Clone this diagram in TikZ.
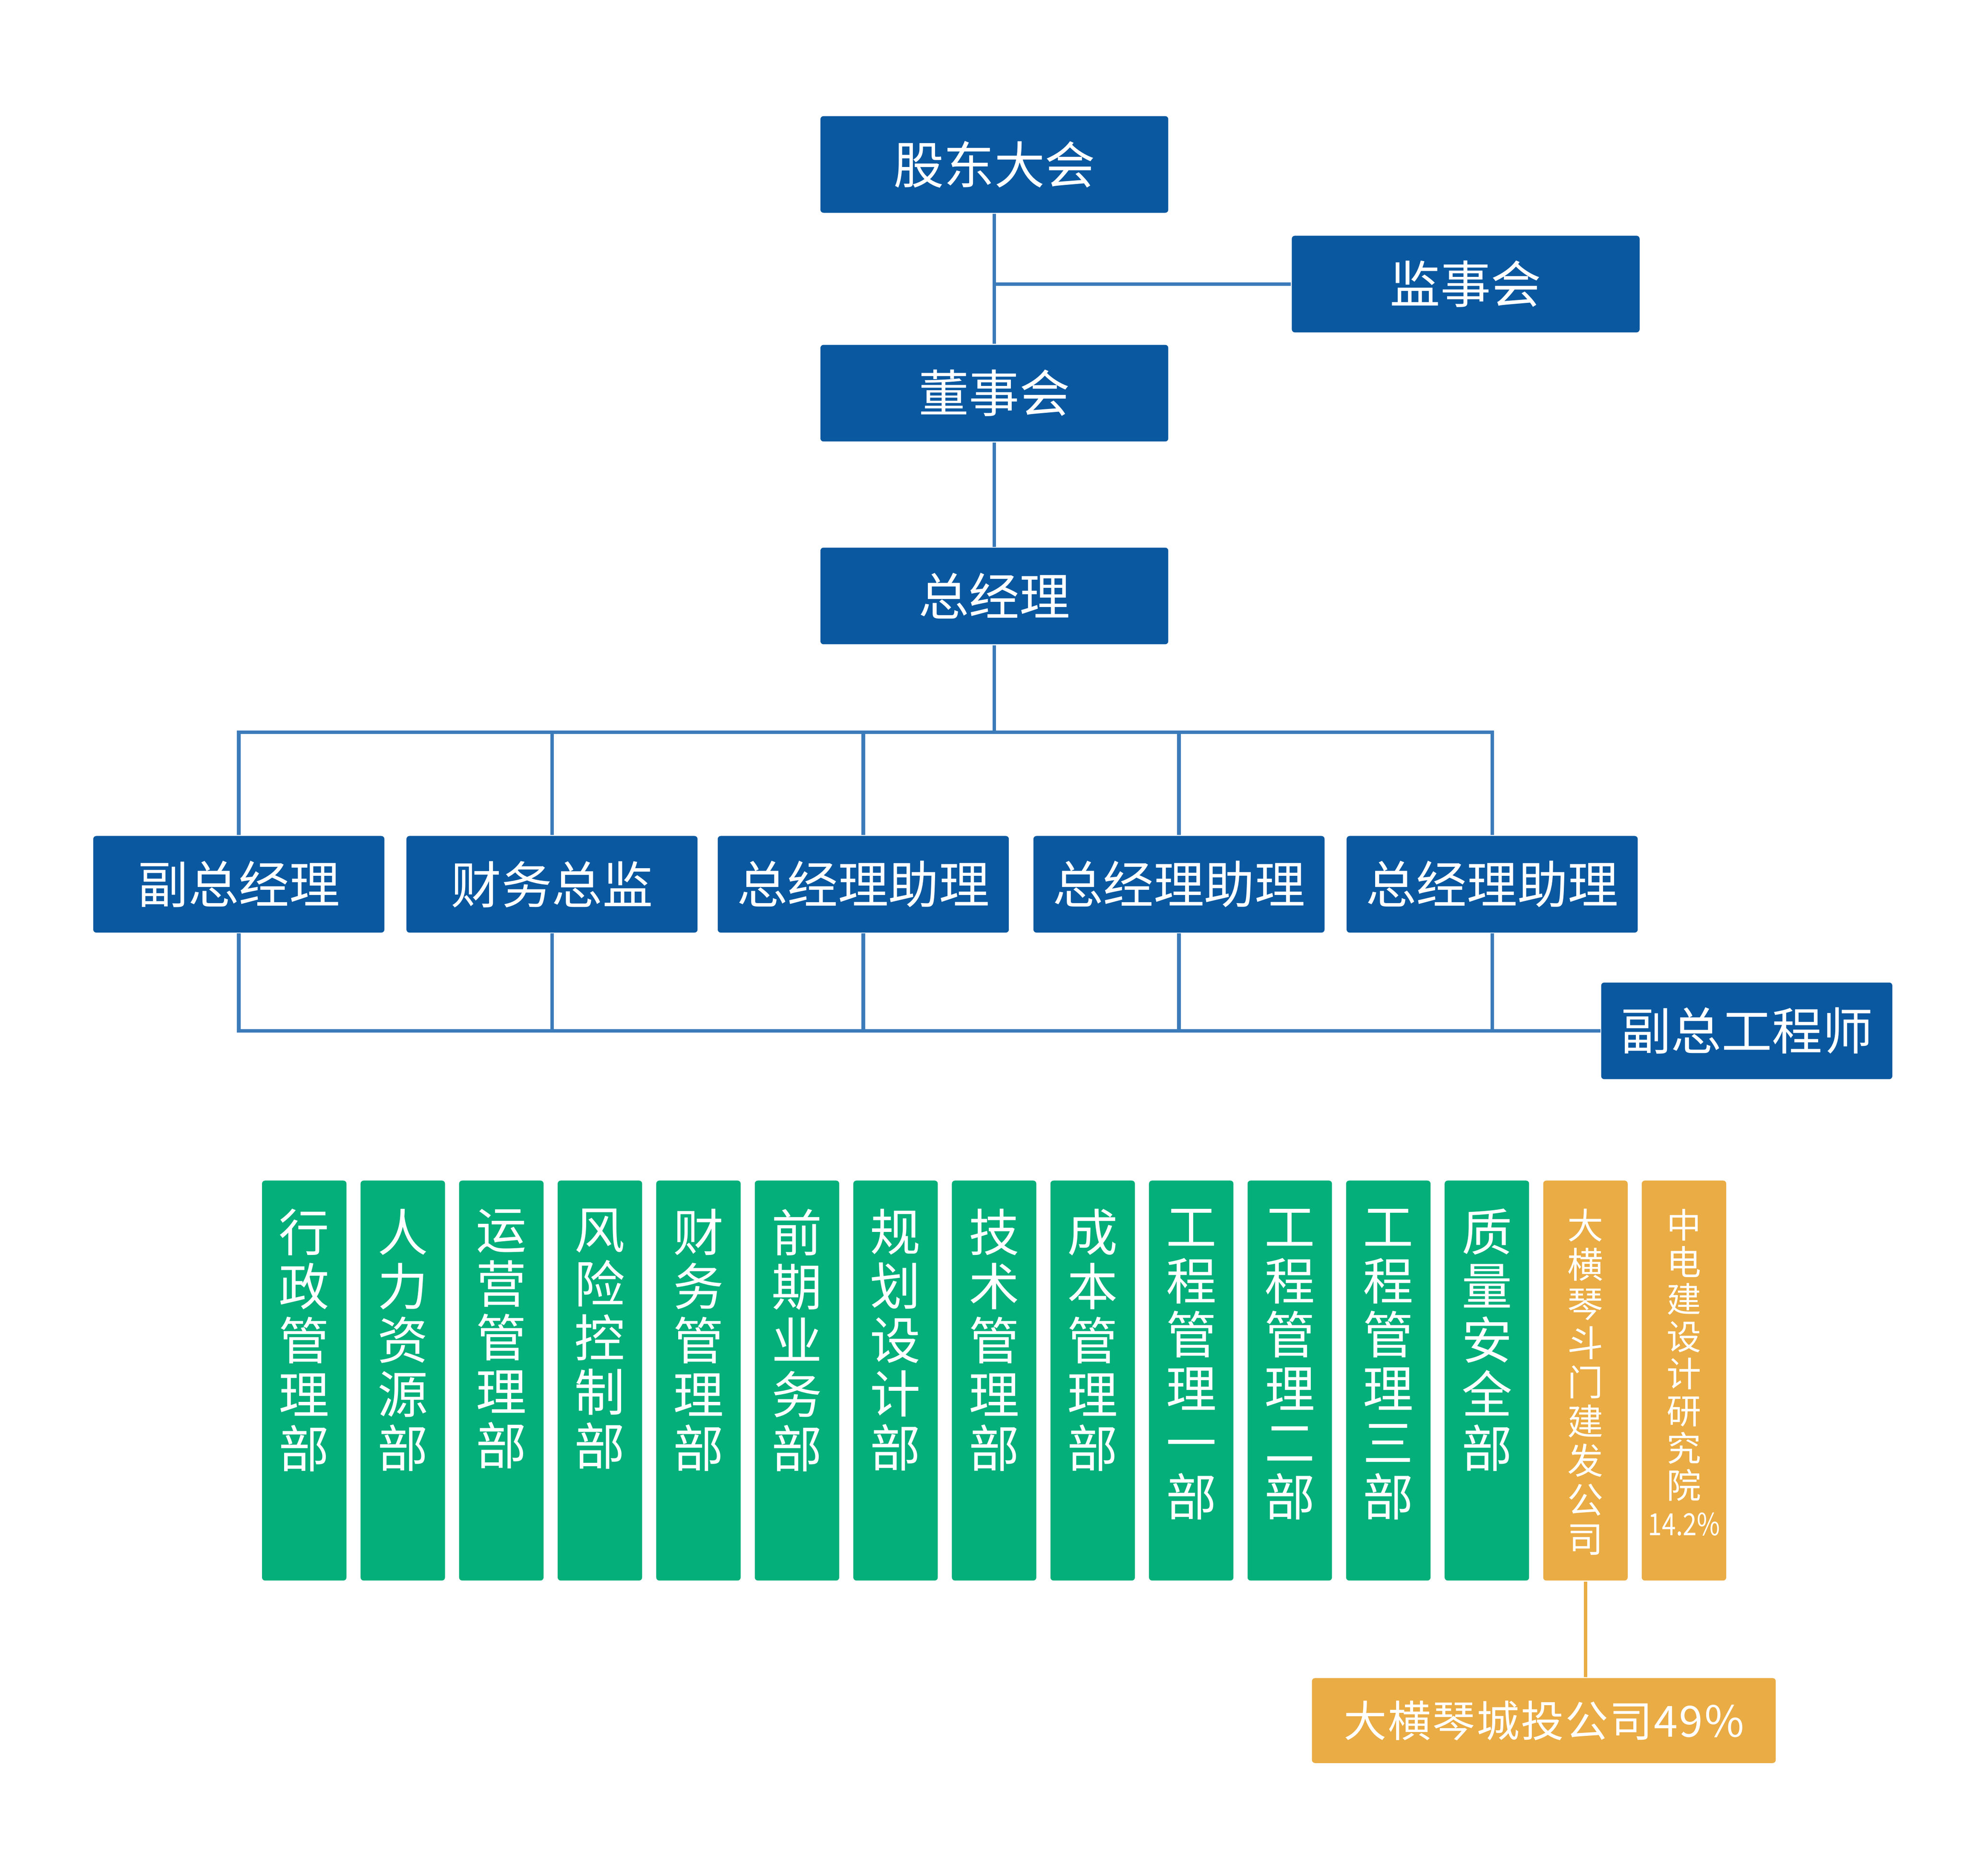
\documentclass[tikz,border=0pt]{standalone}
\usepackage{fontspec}
\usepackage{xcolor}
\usepackage{tikz}
\usetikzlibrary{positioning}
\newfontfamily\cjk{Noto Sans CJK SC}
\newfontfamily\cjknarrow[FakeStretch=0.82]{Noto Sans CJK SC}
\newfontfamily\cjkwide[LetterSpace=3.2]{Noto Sans CJK SC}
\definecolor{boxblue}{RGB}{10,88,160}
\definecolor{lineblue}{RGB}{60,123,186}
\definecolor{deptgreen}{RGB}{5,175,122}
\definecolor{subsorange}{RGB}{234,172,68}

\begin{document}
\begin{tikzpicture}[
        bluebox/.style={fill=boxblue, text=white, rounded corners=0.7pt, minimum height=0.767cm, inner sep=0pt, font=\cjk\fontsize{11.4}{13}\selectfont},
        deptbox/.style={fill=deptgreen, rounded corners=0.7pt, minimum width=0.67cm, minimum height=3.174cm, inner sep=0pt, anchor=north},
        deptname/.style={text=white, inner sep=0pt, anchor=north, align=center, font=\cjk\fontsize{11.4}{12.2}\selectfont},
        link/.style={draw=lineblue, line width=0.8pt}
    ]
        \useasboundingbox (0,0) rectangle (15.6,-14.884);

        % board level
        \node[bluebox, minimum width=2.76cm] (gudong) at (7.89,-1.305) {股东大会};
        \node[bluebox, minimum width=2.76cm] (jianshi) at (11.63,-2.254) {监事会};
        \node[bluebox, minimum width=2.76cm] (dongshi) at (7.89,-3.12) {董事会};
        \node[bluebox, minimum width=2.76cm] (zongjingli) at (7.89,-4.729) {总经理};
        \draw[link] (gudong.south)--(dongshi.north);
        \draw[link] (jianshi.west)--(jianshi.west -| gudong.south);
        \draw[link] (dongshi.south)--(zongjingli.north);

        % management level
        \node[bluebox, minimum width=2.31cm] (fuzong) at (1.895,-7.017) {副总经理};
        \node[bluebox, minimum width=2.31cm] (caiwu) at (4.38,-7.017) {财务总监};
        \node[bluebox, minimum width=2.31cm] (zhuli1) at (6.85,-7.017) {总经理助理};
        \node[bluebox, minimum width=2.31cm] (zhuli2) at (9.355,-7.017) {总经理助理};
        \node[bluebox, minimum width=2.31cm] (zhuli3) at (11.84,-7.017) {总经理助理};
        \node[bluebox, minimum width=2.31cm] (fuzonggong) at (13.86,-8.18) {副总工程师};
        \coordinate (upbus) at (7.89,-5.81);
        \draw[link] (zongjingli.south)--(upbus);
        \draw[link] (fuzong.north)--(fuzong.north |- upbus)--(zhuli3.north |- upbus)--(zhuli3.north);
        \foreach \n in {caiwu,zhuli1,zhuli2}
            \draw[link] (\n.north)--(\n.north |- upbus);
        \draw[link] (fuzong.south)--(fuzong.south |- fuzonggong.west)--(fuzonggong.west);
        \foreach \n in {caiwu,zhuli1,zhuli2,zhuli3}
            \draw[link] (\n.south)--(\n.south |- fuzonggong.west);

        % departments
        \foreach \name [count=\i from 0] in {{行\\政\\管\\理\\部},{人\\力\\资\\源\\部},{运\\营\\管\\理\\部},{风\\险\\控\\制\\部},{财\\务\\管\\理\\部},{前\\期\\业\\务\\部},{规\\划\\设\\计\\部},{技\\术\\管\\理\\部},{成\\本\\管\\理\\部},{工\\程\\管\\理\\一\\部},{工\\程\\管\\理\\二\\部},{工\\程\\管\\理\\三\\部},{质\\量\\安\\全\\部}}{
            \node[deptbox] (dept\i) at ({2.414+0.782*\i},-9.361) {};
            \node[deptname, below=0.225cm of dept\i.north] (deptname\i) {\name};
        }

        % subsidiaries
        \node[deptbox, fill=subsorange] (dept13) at (12.58,-9.361) {};
        \node[deptname, font=\cjk\fontsize{8.1}{8.85}\selectfont, below=0.225cm of dept13.north] (deptname13) {大\\横\\琴\\斗\\门\\建\\发\\公\\司};
        \node[deptbox, fill=subsorange] (dept14) at (13.362,-9.361) {};
        \node[deptname, font=\cjk\fontsize{7.8}{8.4}\selectfont, below=0.225cm of dept14.north] (deptname14) {中\\电\\建\\设\\计\\研\\究\\院\\{\cjknarrow\fontsize{6.9}{8.4}\selectfont 14.2\%}};
        \node[fill=subsorange, text=white, rounded corners=0.7pt, minimum width=3.68cm, minimum height=0.674cm, inner sep=0pt, font=\cjkwide\fontsize{9.7}{11}\selectfont] (chengtou) at (12.25,-13.653) {大横琴城投公司49\%};
        \draw[draw=subsorange, line width=0.8pt] (dept13.south)--(dept13.south |- chengtou.north);
    \end{tikzpicture}
\end{document}
